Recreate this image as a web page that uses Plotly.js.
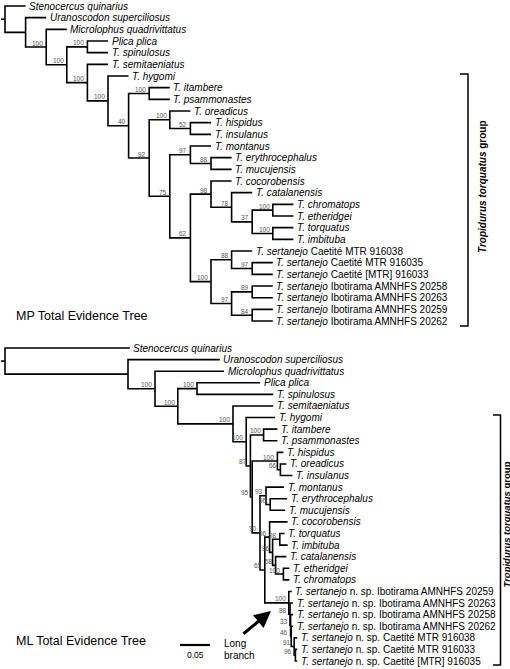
<!DOCTYPE html>
<html><head><meta charset="utf-8">
<script src="https://cdn.plot.ly/plotly-3.0.1.min.js"></script>
<style>html,body{margin:0;padding:0;background:#fff}#chart{width:510px;height:669px}</style>
</head><body><div id="chart"></div>
<script>
// ---------- DATA ----------
// MP tree tips (top to bottom)
const mpTips = [
 "<i>Stenocercus quinarius</i>",
 "<i>Uranoscodon superciliosus</i>",
 "<i>Microlophus quadrivittatus</i>",
 "<i>Plica plica</i>",
 "<i>T. spinulosus</i>",
 "<i>T. semitaeniatus</i>",
 "<i>T. hygomi</i>",
 "<i>T. itambere</i>",
 "<i>T. psammonastes</i>",
 "<i>T. oreadicus</i>",
 "<i>T. hispidus</i>",
 "<i>T. insulanus</i>",
 "<i>T. montanus</i>",
 "<i>T. erythrocephalus</i>",
 "<i>T. mucujensis</i>",
 "<i>T. cocorobensis</i>",
 "<i>T. catalanensis</i>",
 "<i>T. chromatops</i>",
 "<i>T. etheridgei</i>",
 "<i>T. torquatus</i>",
 "<i>T. imbituba</i>",
 "<i>T. sertanejo</i> Caetité MTR 916038",
 "<i>T. sertanejo</i> Caetité MTR 916035",
 "<i>T. sertanejo</i> Caetité [MTR] 916033",
 "<i>T. sertanejo</i> Ibotirama AMNHFS 20258",
 "<i>T. sertanejo</i> Ibotirama AMNHFS 20263",
 "<i>T. sertanejo</i> Ibotirama AMNHFS 20259",
 "<i>T. sertanejo</i> Ibotirama AMNHFS 20262"
];
// MP topology (tip indices), internal labels = bootstrap support; cladogram (unit steps)
const mpNewick = "(0,(1,(2,((3,4)100,(5,(6,((7,8)100,((9,(10,11)52)100,((12,(13,14)88)97,((15,(16,((17,18)100,(19,20)100)37)78)98,((21,(22,23)97)88,((24,25)89,(26,27)84)97)100)62)75)92)40)100)100)100)100))";

// ML tree tips (top to bottom)
const mlTips = [
 "<i>Stenocercus quinarius</i>",
 "<i>Uranoscodon superciliosus</i>",
 "<i>Microlophus quadrivittatus</i>",
 "<i>Plica plica</i>",
 "<i>T. spinulosus</i>",
 "<i>T. semitaeniatus</i>",
 "<i>T. hygomi</i>",
 "<i>T. itambere</i>",
 "<i>T. psammonastes</i>",
 "<i>T. hispidus</i>",
 "<i>T. oreadicus</i>",
 "<i>T. insulanus</i>",
 "<i>T. montanus</i>",
 "<i>T. erythrocephalus</i>",
 "<i>T. mucujensis</i>",
 "<i>T. cocorobensis</i>",
 "<i>T. torquatus</i>",
 "<i>T. imbituba</i>",
 "<i>T. catalanensis</i>",
 "<i>T. etheridgei</i>",
 "<i>T. chromatops</i>",
 "<i>T. sertanejo</i> n. sp. Ibotirama AMNHFS 20259",
 "<i>T. sertanejo</i> n. sp. Ibotirama AMNHFS 20263",
 "<i>T. sertanejo</i> n. sp. Ibotirama AMNHFS 20258",
 "<i>T. sertanejo</i> n. sp. Ibotirama AMNHFS 20262",
 "<i>T. sertanejo</i> n. sp. Caetité MTR 916038",
 "<i>T. sertanejo</i> n. sp. Caetité MTR 916033",
 "<i>T. sertanejo</i> n. sp. Caetité [MTR] 916035"
];
// ML clades with branch lengths (substitutions/site) and bootstrap support
const mlPlica = "(3:0.105,4:0.127)100";
const mlItambere = "(7:0.023,8:0.023)100";
const mlHispidus = "(9:0.010,(10:0.010,11:0.020)66:0.005)100";
const mlMontanus = "(12:0.030,(13:0.028,14:0.025)96:0.007)93";
const mlCocorobensis = "(15:0.030,((16:0.008,17:0.013)98:0.012,(18:0.018,(19:0.010,20:0.010)100:0.013)58:0.005)96:0.005)96";
const mlSertanejo = "(21:0.005,(22:0.005,(23:0.004,(24:0.003,(25:0.005,(26:0.003,27:0.003)96:0.002)91:0.005)46:0.001)33:0.001)88:0.002)100";
const mlNewick = "(0:0.208,(1:0.153,(2:0.115,(" + mlPlica + ":0.032,(5:0.067,(6:0.048,(" + mlItambere +
  ":0.022,(" + mlHispidus + ":0.042,(" + mlMontanus + ":0.010,(" + mlCocorobensis + ":0.008," + mlSertanejo +
  ":0.040)65:0.008)90:0.013)95:0.003)87:0.007)100:0.022)100:0.092)100:0.038)100:0.045):0.205)";
const scaleBarValue = 0.05;
const scaleBarLabel = "0.05";

// ---------- PIXEL FRAME (layout) ----------
const W = 510, H = 669;
const MPF = {x0: 5, dx: 20.6, y0: 6, dy: 11.667};
const MLF = {x0: 5, dx: 600, y0: 348, dy: 11.593};
const FONT = "Liberation Sans, Arial, Helvetica, sans-serif";

function parse(s) {
  let i = 0;
  function node() {
    const n = {children: []};
    if (s[i] === '(') {
      i++;
      n.children.push(node());
      while (s[i] === ',') { i++; n.children.push(node()); }
      if (s[i] !== ')') throw new Error('parse error at ' + i);
      i++;
    }
    let tok = '';
    while (i < s.length && !',():'.includes(s[i])) tok += s[i++];
    if (n.children.length) n.support = tok; else n.tip = +tok;
    if (s[i] === ':') { i++; let l = ''; while (i < s.length && !',()'.includes(s[i])) l += s[i++]; n.len = +l; }
    return n;
  }
  return node();
}
function place(n, x) {
  n.x = x;
  if (n.children.length) {
    n.children.forEach(c => place(c, x + (c.len === undefined ? 1 : c.len)));
    n.y = (n.children[0].y + n.children[n.children.length - 1].y) / 2;
  } else n.y = n.tip;
}
function collect(n, xs, ys, list) {
  list.push(n);
  if (!n.children.length) return;
  const c0 = n.children[0], c1 = n.children[n.children.length - 1];
  xs.push(c0.x, n.x, n.x, c1.x, null); ys.push(c0.y, c0.y, c1.y, c1.y, null);
  n.children.slice(1, -1).forEach(c => { xs.push(n.x, c.x, null); ys.push(c.y, c.y, null); });
  n.children.forEach(c => collect(c, xs, ys, list));
}

const traces = [], annotations = [], shapes = [];
function buildTree(newick, tips, F, xa, ya, stemPx) {
  const root = parse(newick);
  place(root, 0);
  const xs = [root.x - stemPx / F.dx, root.x, null], ys = [root.y, root.y, null], list = [];
  collect(root, xs, ys, list);
  traces.push({type: 'scatter', mode: 'lines', x: xs, y: ys, xaxis: xa, yaxis: ya,
    line: {color: '#000', width: 1.6}, hoverinfo: 'skip', connectgaps: false});
  const xr = xa === 'x' ? 'x' : 'x2', yr = ya === 'y' ? 'y' : 'y2';
  list.forEach(n => {
    if (!n.children.length) {
      annotations.push({xref: xr, yref: yr, x: n.x, y: n.y, text: tips[n.tip], showarrow: false,
        xanchor: 'left', yanchor: 'middle', xshift: 1.5, font: {family: FONT, size: 10, color: '#000'}});
    } else if (n.support) {
      annotations.push({xref: xr, yref: yr, x: n.x, y: n.y, text: n.support, showarrow: false,
        xanchor: 'right', yanchor: 'middle', xshift: -1, yshift: 4, font: {family: FONT, size: 6.5, color: '#555'}});
    }
  });
  return root;
}
buildTree(mpNewick, mpTips, MPF, 'x', 'y', 4);
buildTree(mlNewick, mlTips, MLF, 'x2', 'y2', 4);

// scale bar (in ML branch-length units)
const sbX = (180 - MLF.x0) / MLF.dx, sbY = (645 - MLF.y0) / MLF.dy;
traces.push({type: 'scatter', mode: 'lines', x: [sbX, sbX + scaleBarValue], y: [sbY, sbY], xaxis: 'x2', yaxis: 'y2',
  line: {color: '#000', width: 2.2}, hoverinfo: 'skip'});
annotations.push({xref: 'x2', yref: 'y2', x: sbX + scaleBarValue / 2, y: (655 - MLF.y0) / MLF.dy, text: scaleBarLabel,
  showarrow: false, xanchor: 'center', yanchor: 'middle', font: {family: FONT, size: 8.5, color: '#000'}});

const px = v => v / W, py = v => 1 - v / H;
function paperText(x, y, text, size, opts) {
  annotations.push(Object.assign({xref: 'paper', yref: 'paper', x: px(x), y: py(y), text, showarrow: false,
    xanchor: 'left', yanchor: 'middle', font: {family: FONT, size, color: '#000'}}, opts || {}));
}
paperText(14, 316, "MP Total Evidence Tree", 12.5);
paperText(14, 641, "ML Total Evidence Tree", 12.5);
paperText(222, 643, "Long", 10);
paperText(222, 655, "branch", 10);
// arrow
annotations.push({xref: 'paper', yref: 'paper', x: px(271), y: py(611), ax: -29, ay: 24, axref: 'pixel', ayref: 'pixel',
  text: '', showarrow: true, arrowhead: 2, arrowsize: 1.1, arrowwidth: 3, arrowcolor: '#000'});

// brackets
function bracket(xLine, xTick, y0, y1, xText, yText, size) {
  const L = {color: '#000', width: 1.5};
  shapes.push({type: 'path', xref: 'paper', yref: 'paper',
    path: `M ${px(xTick)} ${py(y0)} L ${px(xLine)} ${py(y0)} L ${px(xLine)} ${py(y1)} L ${px(xTick)} ${py(y1)}`, line: L});
  annotations.push({xref: 'paper', yref: 'paper', x: px(xText), y: py(yText), text: '<b><i>Tropidurus torquatus</i> group</b>',
    textangle: -90, showarrow: false, xanchor: 'center', yanchor: 'middle', font: {family: FONT, size, color: '#000'}});
}
bracket(468, 460, 74, 326, 482, 187, 10);
bracket(500.5, 493, 415, 665, 505.5, 525, 9.5);

const layout = {
  width: W, height: H, margin: {l: 0, r: 0, t: 0, b: 0, pad: 0},
  paper_bgcolor: '#fff', plot_bgcolor: '#fff', showlegend: false,
  xaxis: {visible: false, range: [-MPF.x0 / MPF.dx, (W - MPF.x0) / MPF.dx], domain: [0, 1], anchor: 'y', fixedrange: true},
  yaxis: {visible: false, range: [(H - MPF.y0) / MPF.dy, -MPF.y0 / MPF.dy], domain: [0, 1], anchor: 'x', fixedrange: true},
  xaxis2: {visible: false, range: [-MLF.x0 / MLF.dx, (W - MLF.x0) / MLF.dx], domain: [0, 1], anchor: 'y2', overlaying: 'x', fixedrange: true},
  yaxis2: {visible: false, range: [(H - MLF.y0) / MLF.dy, -MLF.y0 / MLF.dy], domain: [0, 1], anchor: 'x2', overlaying: 'y', fixedrange: true},
  annotations, shapes
};
Plotly.newPlot('chart', traces, layout, {staticPlot: true, displayModeBar: false});
</script>
</body></html>
